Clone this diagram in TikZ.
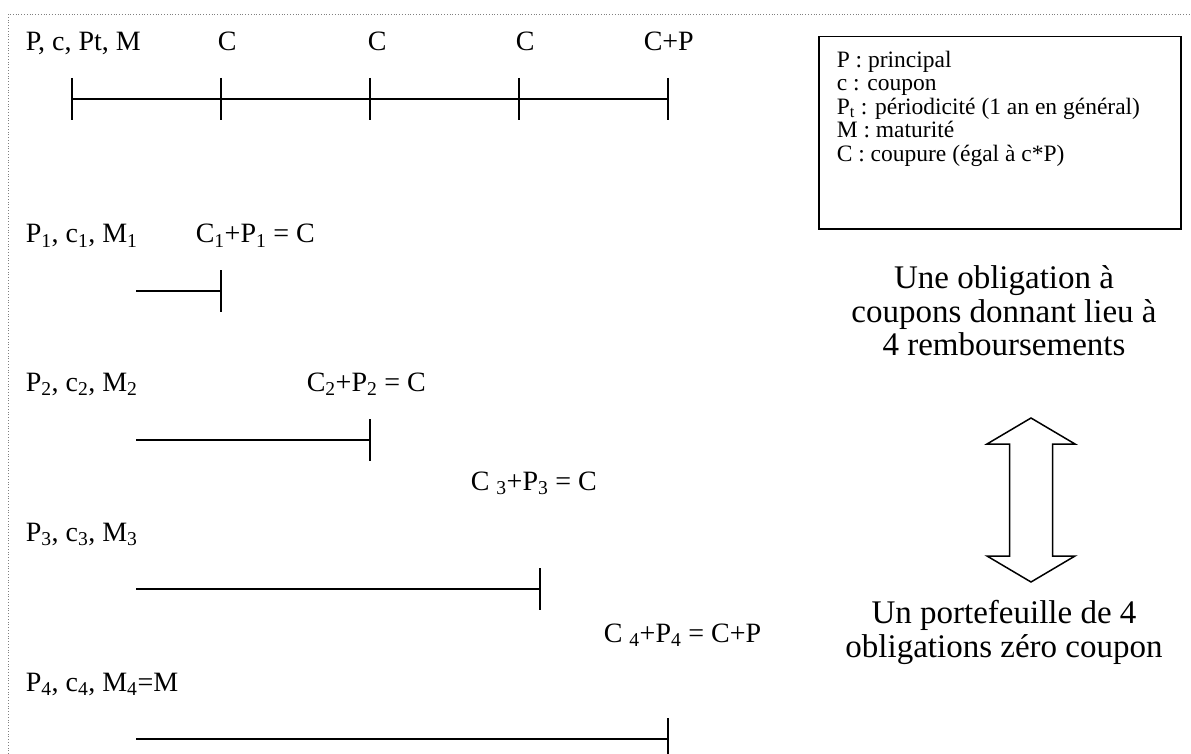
\documentclass[tikz,border=0pt]{standalone}
\usepackage{fontspec}
\setmainfont{Liberation Serif}
\begin{document}
\begin{tikzpicture}[x=1pt,y=-1pt,line width=1.5pt,
  lab/.style={anchor=base west,inner sep=0pt,font=\fontsize{28}{34}\selectfont},
  leg/.style={anchor=north west,inner sep=0pt,align=left,font=\fontsize{23.5}{23.5}\selectfont},
  big/.style={anchor=north,inner sep=0pt,align=center,font=\fontsize{33}{33.5}\selectfont}]
  \useasboundingbox (0,0) rectangle (1191,754);
  \draw[gray,line width=0.8pt,dash pattern=on 0.8pt off 2pt] (8,754) -- (8,14) -- (1191,14);
  \node[lab] (m0) at (25,51) {P, c, Pt, M};
  \node[lab] (c1) at (217,51) {C};
  \node[lab] (c2) at (367,51) {C};
  \node[lab] (c3) at (515,51) {C};
  \node[lab] (cp) at (643,51) {C+P};
  \draw (72,99) -- (668,99);
  \foreach \x in {72,221,370,519,668} \draw (\x,78) -- (\x,120);
  \node[lab] (m1) at (25,243) {P\textsubscript{1}, c\textsubscript{1}, M\textsubscript{1}};
  \node[lab] (f1) at (195,243) {C\textsubscript{1}+P\textsubscript{1} = C};
  \node[lab] (m2) at (25,391) {P\textsubscript{2}, c\textsubscript{2}, M\textsubscript{2}};
  \node[lab] (f2) at (306,391) {C\textsubscript{2}+P\textsubscript{2} = C};
  \node[lab] (f3) at (470,490) {C \textsubscript{3}+P\textsubscript{3} = C};
  \node[lab] (m3) at (25,541) {P\textsubscript{3}, c\textsubscript{3}, M\textsubscript{3}};
  \node[lab] (f4) at (603,642) {C \textsubscript{4}+P\textsubscript{4} = C+P};
  \node[lab] (m4) at (25,691) {P\textsubscript{4}, c\textsubscript{4}, M\textsubscript{4}=M};
  \foreach \x/\y in {221/291,370/440,540/589,668/739} {
    \draw (136,\y) -- (\x,\y);
    \draw (\x,\y-21) -- (\x,\y+21);
  }
  \node[draw,minimum width=362pt,minimum height=192pt,anchor=north west,inner sep=0pt] (legend) at (818,36) {};
  \node[leg] (legtxt) at (836,50) {P : principal\\c : coupon\\P\textsubscript{t} : périodicité (1 an en général)\\M : maturité\\C : coupure (égal à c*P)};
  \node[big] (obl) at (1004,265) {Une obligation à\\coupons donnant lieu à\\4 remboursements};
  \node[big] (ptf) at (1004,600) {Un portefeuille de 4\\obligations zéro coupon};
  \draw[shift={(1031,500)}] (0,-82) -- (44,-56) -- (21.5,-56) -- (21.5,56) -- (44,56) -- (0,82)
    -- (-44,56) -- (-21.5,56) -- (-21.5,-56) -- (-44,-56) -- cycle;
\end{tikzpicture}
\end{document}
